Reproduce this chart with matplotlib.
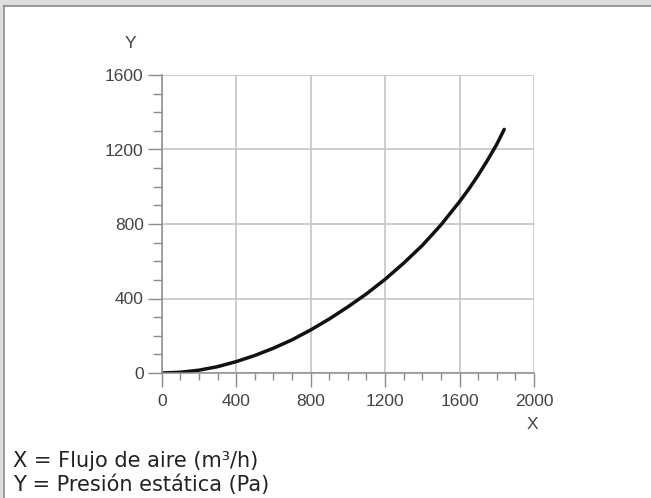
import matplotlib
matplotlib.use("Agg")
import matplotlib.pyplot as plt
from matplotlib.patches import Rectangle
from matplotlib.lines import Line2D
from matplotlib.ticker import MultipleLocator

# Curva: flujo de aire (m3/h) vs presion estatica (Pa)
flujo = [0, 100, 200, 300, 400, 500, 600, 700, 800, 900, 1000, 1100,
         1200, 1300, 1400, 1500, 1600, 1650, 1700, 1750, 1800, 1840]
presion = [0, 4, 15, 34, 61, 94, 133, 178, 231, 290, 355, 425,
           503, 590, 685, 795, 920, 988, 1062, 1142, 1228, 1308]

x_ticks = [0, 400, 800, 1200, 1600, 2000]
y_ticks = [0, 400, 800, 1200, 1600]

W, H = 651, 498
fig = plt.figure(figsize=(W / 100, H / 100), dpi=100, facecolor="white")

# Marco gris del panel (arriba e izquierda)
fig.add_artist(Rectangle((0, 1 - 6 / H), 1, 6 / H, transform=fig.transFigure,
                         facecolor="#dcdddf", edgecolor="none"))
fig.add_artist(Rectangle((0, 0), 3 / W, 1, transform=fig.transFigure,
                         facecolor="#dcdddf", edgecolor="none"))
fig.add_artist(Line2D([3.5 / W, 1], [1 - 6.5 / H, 1 - 6.5 / H], transform=fig.transFigure,
                      color="#8a8a8a", lw=1.2))
fig.add_artist(Line2D([3.5 / W, 3.5 / W], [0, 1 - 6.5 / H], transform=fig.transFigure,
                      color="#8a8a8a", lw=1.2))

ax = fig.add_axes([161.7 / W, (H - 373) / H, 372.3 / W, 298 / H])
ax.plot(flujo, presion, color="#111111", lw=2.5, solid_capstyle="round",
        solid_joinstyle="round")

ax.set_xlim(0, 2000)
ax.set_ylim(0, 1600)
ax.set_xticks(x_ticks)
ax.set_yticks(y_ticks)
ax.xaxis.set_minor_locator(MultipleLocator(100))
ax.yaxis.set_minor_locator(MultipleLocator(100))

ax.grid(True, which="major", color="#c9c9c9", lw=1.3)
ax.set_axisbelow(True)
for s in ["top", "right"]:
    ax.spines[s].set_visible(False)
for s in ["left", "bottom"]:
    ax.spines[s].set_color("#8c8c8c")
    ax.spines[s].set_linewidth(1.1)

ax.tick_params(which="major", direction="out", length=10, width=1.0, color="#8c8c8c",
               labelcolor="#444444", labelsize=12.5)
ax.tick_params(axis="y", which="major", pad=3)
ax.tick_params(axis="x", which="major", pad=5)
ax.tick_params(axis="y", which="minor", direction="out", length=6.5, width=1.0, color="#8c8c8c")
ax.tick_params(axis="x", which="minor", direction="out", length=5, width=1.0, color="#8c8c8c")
for lab in ax.get_xticklabels() + ax.get_yticklabels():
    lab.set_fontfamily("Liberation Sans")

ax.text(-0.085, 1.107, "Y", transform=ax.transAxes, ha="center", va="center",
        fontsize=12.5, color="#444444", family="Liberation Sans")
ax.text(0.997, -0.174, "X", transform=ax.transAxes, ha="center", va="center",
        fontsize=12.5, color="#444444", family="Liberation Sans")

fig.text(13 / W, (H - 467) / H, "X = Flujo de aire (m³/h)", fontsize=15,
         color="#222222", family="DejaVu Sans", va="baseline")
fig.text(13 / W, (H - 491) / H, "Y = Presión estática (Pa)", fontsize=15,
         color="#222222", family="DejaVu Sans", va="baseline")

fig.savefig("out.png", dpi=100, facecolor="white")
